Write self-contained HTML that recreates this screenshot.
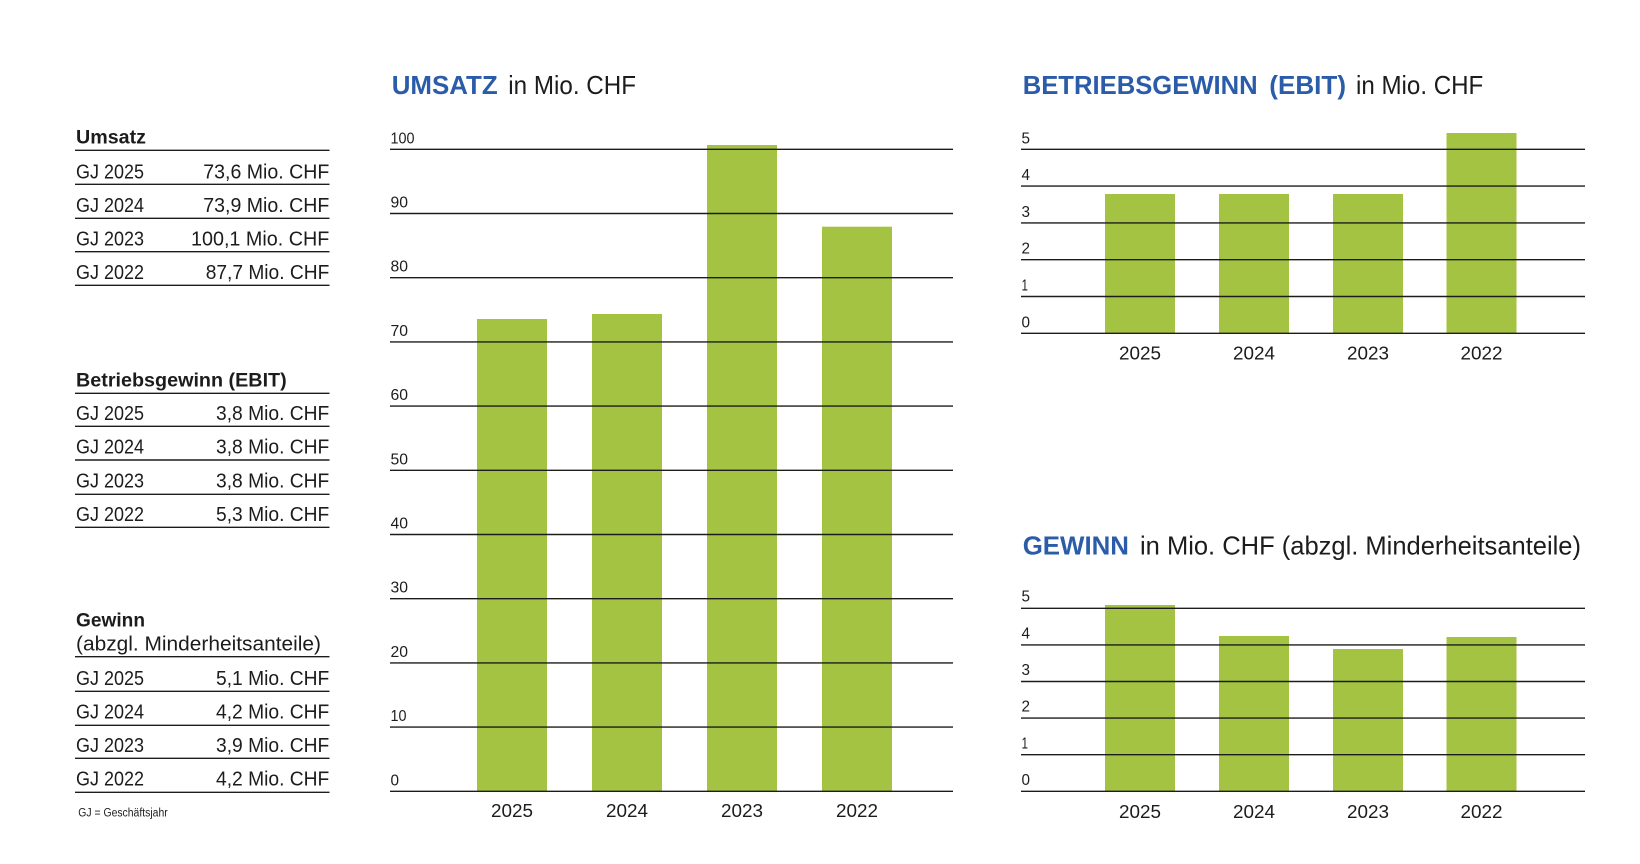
<!DOCTYPE html>
<html>
<head>
<meta charset="utf-8">
<style>
  html,body{margin:0;padding:0;background:#fff;}
  svg{display:block;}
  text{font-family:"Liberation Sans",sans-serif;fill:#1c1c1c;}
  .b{font-weight:bold;}
  .blue{fill:#2b5ca9;font-weight:bold;}
  .row{font-size:20px;}
  .hd{font-size:19px;font-weight:bold;}
  .tt{font-size:26px;}
  .ax{font-size:15.5px;}
  .yr{font-size:18.5px;}
</style>
</head>
<body>
<svg width="1640" height="864" viewBox="0 0 1640 864" xmlns="http://www.w3.org/2000/svg">
  <rect width="1640" height="864" fill="#fff"/>

  <!-- ===== LEFT TABLE ===== -->
  <g stroke="#1c1c1c" stroke-width="1.4">
    <line x1="75" y1="150.3" x2="329.5" y2="150.3"/>
    <line x1="75" y1="184.3" x2="329.5" y2="184.3"/>
    <line x1="75" y1="218.3" x2="329.5" y2="218.3"/>
    <line x1="75" y1="251.7" x2="329.5" y2="251.7"/>
    <line x1="75" y1="285.3" x2="329.5" y2="285.3"/>

    <line x1="75" y1="393.3" x2="329.5" y2="393.3"/>
    <line x1="75" y1="426.3" x2="329.5" y2="426.3"/>
    <line x1="75" y1="460" x2="329.5" y2="460"/>
    <line x1="75" y1="494.3" x2="329.5" y2="494.3"/>
    <line x1="75" y1="527.3" x2="329.5" y2="527.3"/>

    <line x1="75" y1="656.7" x2="329.5" y2="656.7"/>
    <line x1="75" y1="691.3" x2="329.5" y2="691.3"/>
    <line x1="75" y1="725.3" x2="329.5" y2="725.3"/>
    <line x1="75" y1="758.3" x2="329.5" y2="758.3"/>
    <line x1="75" y1="792.3" x2="329.5" y2="792.3"/>
  </g>

  <text class="hd" x="76" y="143.3" textLength="70" lengthAdjust="spacingAndGlyphs">Umsatz</text>
  <text class="row" x="76" y="178.3" textLength="68" lengthAdjust="spacingAndGlyphs">GJ 2025</text>
  <text class="row" x="203.3" y="178.3" textLength="126" lengthAdjust="spacingAndGlyphs">73,6 Mio. CHF</text>
  <text class="row" x="76" y="211.8" textLength="68" lengthAdjust="spacingAndGlyphs">GJ 2024</text>
  <text class="row" x="203.3" y="211.8" textLength="126" lengthAdjust="spacingAndGlyphs">73,9 Mio. CHF</text>
  <text class="row" x="76" y="245.3" textLength="68" lengthAdjust="spacingAndGlyphs">GJ 2023</text>
  <text class="row" x="191" y="245.3" textLength="138.3" lengthAdjust="spacingAndGlyphs">100,1 Mio. CHF</text>
  <text class="row" x="76" y="278.8" textLength="68" lengthAdjust="spacingAndGlyphs">GJ 2022</text>
  <text class="row" x="205.7" y="278.8" textLength="123.6" lengthAdjust="spacingAndGlyphs">87,7 Mio. CHF</text>

  <text class="hd" x="76" y="386.7" textLength="210.7" lengthAdjust="spacingAndGlyphs">Betriebsgewinn (EBIT)</text>
  <text class="row" x="76" y="420" textLength="68" lengthAdjust="spacingAndGlyphs">GJ 2025</text>
  <text class="row" x="216" y="420" textLength="113.3" lengthAdjust="spacingAndGlyphs">3,8 Mio. CHF</text>
  <text class="row" x="76" y="453.7" textLength="68" lengthAdjust="spacingAndGlyphs">GJ 2024</text>
  <text class="row" x="216" y="453.7" textLength="113.3" lengthAdjust="spacingAndGlyphs">3,8 Mio. CHF</text>
  <text class="row" x="76" y="487.5" textLength="68" lengthAdjust="spacingAndGlyphs">GJ 2023</text>
  <text class="row" x="216" y="487.5" textLength="113.3" lengthAdjust="spacingAndGlyphs">3,8 Mio. CHF</text>
  <text class="row" x="76" y="520.8" textLength="68" lengthAdjust="spacingAndGlyphs">GJ 2022</text>
  <text class="row" x="216" y="520.8" textLength="113.3" lengthAdjust="spacingAndGlyphs">5,3 Mio. CHF</text>

  <text class="hd" x="76" y="626.7" textLength="69" lengthAdjust="spacingAndGlyphs">Gewinn</text>
  <text class="row" x="76" y="650.5" textLength="245" lengthAdjust="spacingAndGlyphs">(abzgl. Minderheitsanteile)</text>
  <text class="row" x="76" y="685" textLength="68" lengthAdjust="spacingAndGlyphs">GJ 2025</text>
  <text class="row" x="216" y="685" textLength="113.3" lengthAdjust="spacingAndGlyphs">5,1 Mio. CHF</text>
  <text class="row" x="76" y="718.5" textLength="68" lengthAdjust="spacingAndGlyphs">GJ 2024</text>
  <text class="row" x="216" y="718.5" textLength="113.3" lengthAdjust="spacingAndGlyphs">4,2 Mio. CHF</text>
  <text class="row" x="76" y="751.8" textLength="68" lengthAdjust="spacingAndGlyphs">GJ 2023</text>
  <text class="row" x="216" y="751.8" textLength="113.3" lengthAdjust="spacingAndGlyphs">3,9 Mio. CHF</text>
  <text class="row" x="76" y="785.3" textLength="68" lengthAdjust="spacingAndGlyphs">GJ 2022</text>
  <text class="row" x="216" y="785.3" textLength="113.3" lengthAdjust="spacingAndGlyphs">4,2 Mio. CHF</text>

  <text x="78.3" y="816.7" style="font-size:11.5px" textLength="89.4" lengthAdjust="spacingAndGlyphs">GJ = Geschäftsjahr</text>

  <!-- ===== UMSATZ CHART ===== -->
  <text class="tt blue" x="391.7" y="94" textLength="106" lengthAdjust="spacingAndGlyphs">UMSATZ</text>
  <text class="tt" x="508.3" y="94" textLength="127.7" lengthAdjust="spacingAndGlyphs">in Mio. CHF</text>

  <g fill="#a5c342">
    <rect x="477" y="319" width="70" height="472.3"/>
    <rect x="592" y="314" width="70" height="477.3"/>
    <rect x="707" y="145" width="70" height="646.3"/>
    <rect x="822" y="226.7" width="70" height="564.6"/>
  </g>
  <g stroke="#1c1c1c" stroke-width="1.4">
    <line x1="390" y1="149.3" x2="953" y2="149.3"/>
    <line x1="390" y1="213.5" x2="953" y2="213.5"/>
    <line x1="390" y1="277.7" x2="953" y2="277.7"/>
    <line x1="390" y1="341.9" x2="953" y2="341.9"/>
    <line x1="390" y1="406.1" x2="953" y2="406.1"/>
    <line x1="390" y1="470.3" x2="953" y2="470.3"/>
    <line x1="390" y1="534.5" x2="953" y2="534.5"/>
    <line x1="390" y1="598.7" x2="953" y2="598.7"/>
    <line x1="390" y1="662.9" x2="953" y2="662.9"/>
    <line x1="390" y1="727.1" x2="953" y2="727.1"/>
    <line x1="390" y1="791.3" x2="953" y2="791.3"/>
  </g>
  <g class="ax">
    <text class="ax" x="390.5" y="143.3" textLength="24" lengthAdjust="spacingAndGlyphs">100</text>
    <text class="ax" x="390.5" y="207.5" textLength="17.5" lengthAdjust="spacingAndGlyphs">90</text>
    <text class="ax" x="390.5" y="271.7" textLength="17.5" lengthAdjust="spacingAndGlyphs">80</text>
    <text class="ax" x="390.5" y="335.9" textLength="17.5" lengthAdjust="spacingAndGlyphs">70</text>
    <text class="ax" x="390.5" y="400.1" textLength="17.5" lengthAdjust="spacingAndGlyphs">60</text>
    <text class="ax" x="390.5" y="464.3" textLength="17.5" lengthAdjust="spacingAndGlyphs">50</text>
    <text class="ax" x="390.5" y="528.5" textLength="17.5" lengthAdjust="spacingAndGlyphs">40</text>
    <text class="ax" x="390.5" y="592.7" textLength="17.5" lengthAdjust="spacingAndGlyphs">30</text>
    <text class="ax" x="390.5" y="656.9" textLength="17.5" lengthAdjust="spacingAndGlyphs">20</text>
    <text class="ax" x="390.5" y="721.1" textLength="16" lengthAdjust="spacingAndGlyphs">10</text>
    <text class="ax" x="390.5" y="785.3" textLength="8.5" lengthAdjust="spacingAndGlyphs">0</text>
  </g>
  <text class="yr" x="491" y="817" textLength="42" lengthAdjust="spacingAndGlyphs">2025</text>
  <text class="yr" x="606" y="817" textLength="42" lengthAdjust="spacingAndGlyphs">2024</text>
  <text class="yr" x="721" y="817" textLength="42" lengthAdjust="spacingAndGlyphs">2023</text>
  <text class="yr" x="836" y="817" textLength="42" lengthAdjust="spacingAndGlyphs">2022</text>

  <!-- ===== EBIT CHART ===== -->
  <text class="tt blue" x="1022.7" y="94" textLength="235" lengthAdjust="spacingAndGlyphs">BETRIEBSGEWINN</text>
  <text class="tt blue" x="1269.3" y="94" textLength="76.7" lengthAdjust="spacingAndGlyphs">(EBIT)</text>
  <text class="tt" x="1356" y="94" textLength="127.3" lengthAdjust="spacingAndGlyphs">in Mio. CHF</text>

  <g fill="#a5c342">
    <rect x="1105" y="194" width="70" height="139.3"/>
    <rect x="1219" y="194" width="70" height="139.3"/>
    <rect x="1333" y="194" width="70" height="139.3"/>
    <rect x="1446.5" y="133" width="70" height="200.3"/>
  </g>
  <g stroke="#1c1c1c" stroke-width="1.4">
    <line x1="1021" y1="149.3" x2="1585" y2="149.3"/>
    <line x1="1021" y1="186.1" x2="1585" y2="186.1"/>
    <line x1="1021" y1="222.9" x2="1585" y2="222.9"/>
    <line x1="1021" y1="259.7" x2="1585" y2="259.7"/>
    <line x1="1021" y1="296.5" x2="1585" y2="296.5"/>
    <line x1="1021" y1="333.3" x2="1585" y2="333.3"/>
  </g>
  <text class="ax" x="1021.5" y="143.3" textLength="8.5" lengthAdjust="spacingAndGlyphs">5</text>
  <text class="ax" x="1021.5" y="180.1" textLength="8.5" lengthAdjust="spacingAndGlyphs">4</text>
  <text class="ax" x="1021.5" y="216.9" textLength="8.5" lengthAdjust="spacingAndGlyphs">3</text>
  <text class="ax" x="1021.5" y="253.7" textLength="8.5" lengthAdjust="spacingAndGlyphs">2</text>
  <text class="ax" x="1021.5" y="290.5" textLength="6.5" lengthAdjust="spacingAndGlyphs">1</text>
  <text class="ax" x="1021.5" y="327.3" textLength="8.5" lengthAdjust="spacingAndGlyphs">0</text>
  <text class="yr" x="1119" y="359.3" textLength="42" lengthAdjust="spacingAndGlyphs">2025</text>
  <text class="yr" x="1233" y="359.3" textLength="42" lengthAdjust="spacingAndGlyphs">2024</text>
  <text class="yr" x="1347" y="359.3" textLength="42" lengthAdjust="spacingAndGlyphs">2023</text>
  <text class="yr" x="1460.5" y="359.3" textLength="42" lengthAdjust="spacingAndGlyphs">2022</text>

  <!-- ===== GEWINN CHART ===== -->
  <text class="tt blue" x="1022.7" y="554.3" textLength="106.3" lengthAdjust="spacingAndGlyphs">GEWINN</text>
  <text class="tt" x="1140" y="554.3" textLength="441" lengthAdjust="spacingAndGlyphs">in Mio. CHF (abzgl. Minderheitsanteile)</text>

  <g fill="#a5c342">
    <rect x="1105" y="605" width="70" height="186.3"/>
    <rect x="1219" y="636" width="70" height="155.3"/>
    <rect x="1333" y="649" width="70" height="142.3"/>
    <rect x="1446.5" y="637" width="70" height="154.3"/>
  </g>
  <g stroke="#1c1c1c" stroke-width="1.4">
    <line x1="1021" y1="608.3" x2="1585" y2="608.3"/>
    <line x1="1021" y1="644.9" x2="1585" y2="644.9"/>
    <line x1="1021" y1="681.5" x2="1585" y2="681.5"/>
    <line x1="1021" y1="718.1" x2="1585" y2="718.1"/>
    <line x1="1021" y1="754.7" x2="1585" y2="754.7"/>
    <line x1="1021" y1="791.3" x2="1585" y2="791.3"/>
  </g>
  <text class="ax" x="1021.5" y="601.7" textLength="8.5" lengthAdjust="spacingAndGlyphs">5</text>
  <text class="ax" x="1021.5" y="638.5" textLength="8.5" lengthAdjust="spacingAndGlyphs">4</text>
  <text class="ax" x="1021.5" y="675.1" textLength="8.5" lengthAdjust="spacingAndGlyphs">3</text>
  <text class="ax" x="1021.5" y="711.7" textLength="8.5" lengthAdjust="spacingAndGlyphs">2</text>
  <text class="ax" x="1021.5" y="748.3" textLength="6.5" lengthAdjust="spacingAndGlyphs">1</text>
  <text class="ax" x="1021.5" y="785" textLength="8.5" lengthAdjust="spacingAndGlyphs">0</text>
  <text class="yr" x="1119" y="818" textLength="42" lengthAdjust="spacingAndGlyphs">2025</text>
  <text class="yr" x="1233" y="818" textLength="42" lengthAdjust="spacingAndGlyphs">2024</text>
  <text class="yr" x="1347" y="818" textLength="42" lengthAdjust="spacingAndGlyphs">2023</text>
  <text class="yr" x="1460.5" y="818" textLength="42" lengthAdjust="spacingAndGlyphs">2022</text>
</svg>
</body>
</html>
